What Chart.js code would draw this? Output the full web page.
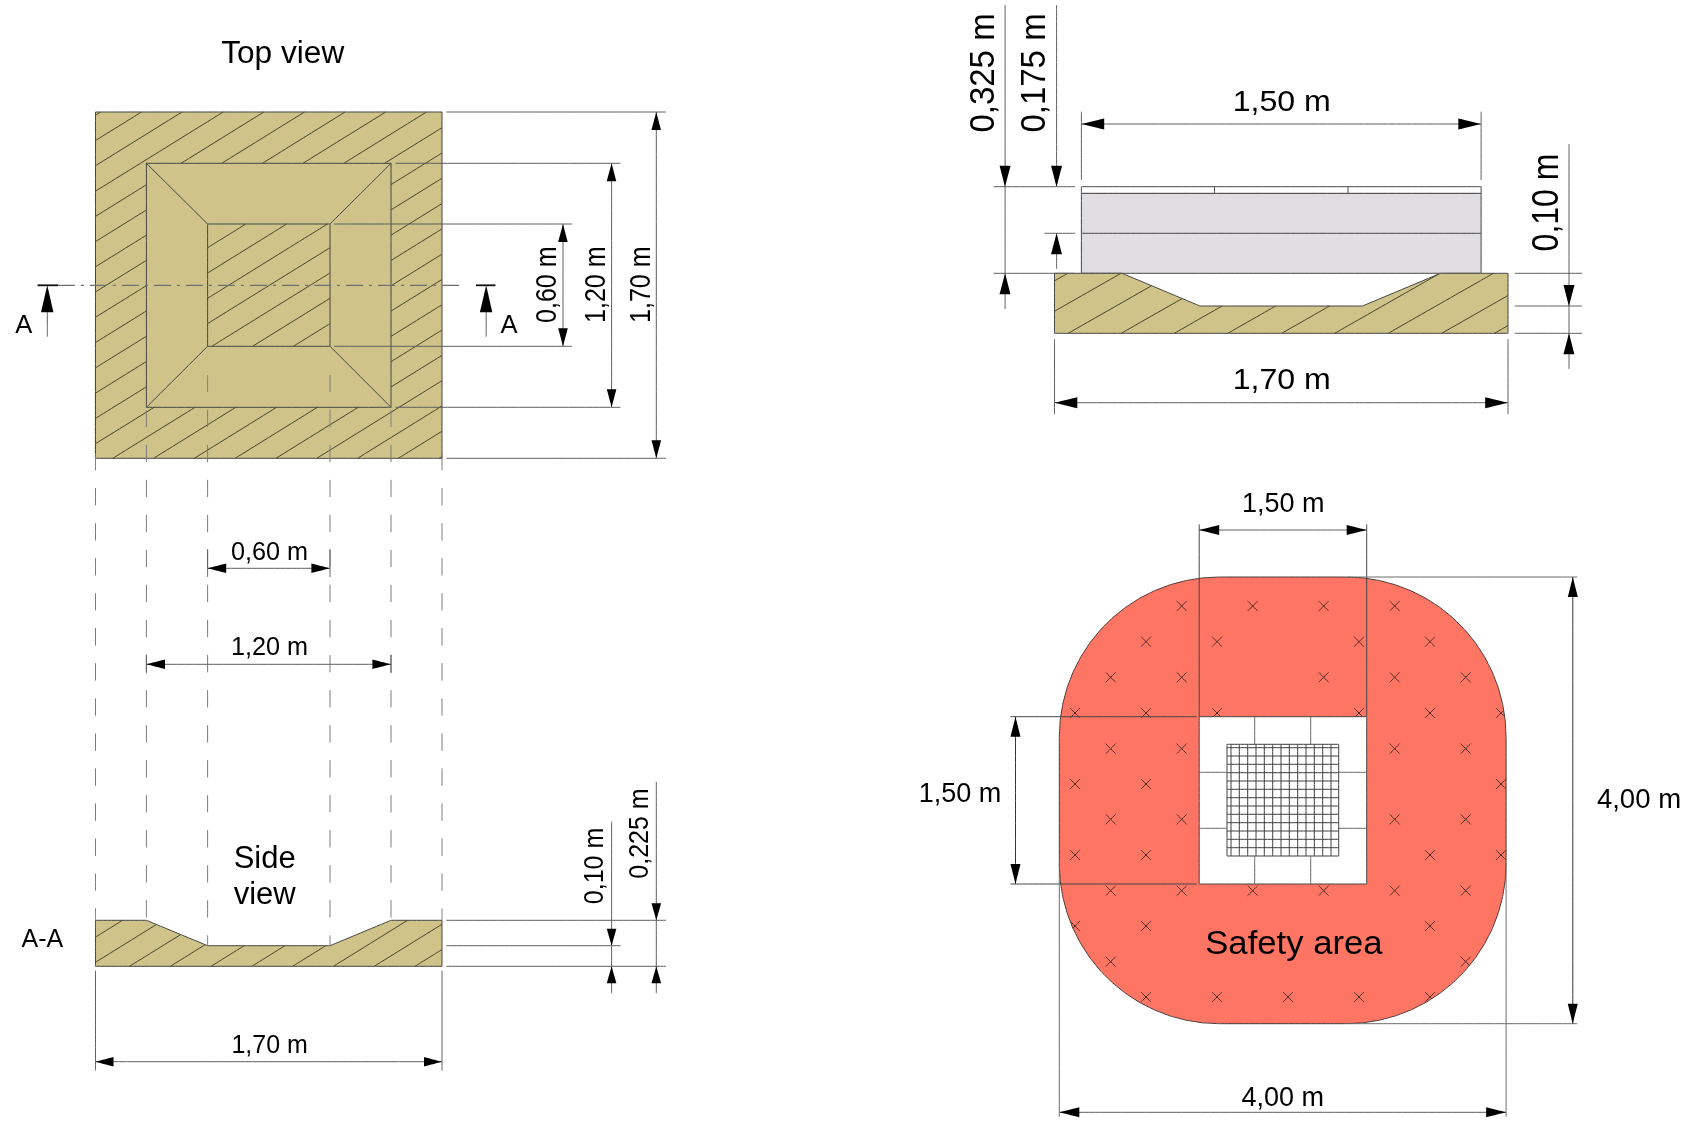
<!DOCTYPE html>
<html><head><meta charset="utf-8">
<style>html,body{margin:0;padding:0;background:#fff}canvas{display:block;filter:blur(0.3px)}</style>
<script src="https://cdn.jsdelivr.net/npm/chart.js@4"></script>
</head><body><canvas id="c" width="1698" height="1121"></canvas>
<script>
// ---- values, in drawing units ----
const topXs = [95.5, 146.4, 207.6, 330, 391, 442];
const topYs = [112, 163.3, 224, 285.3, 346.3, 407.3, 458.3];
const profileXs = [95.5, 146.4, 207.6, 330, 391, 442];
const profileYs = [920.3, 945.7, 966.3];
const plateXs = [1081.4, 1214.5, 1348, 1481.1];
const plateYs = [186.7, 193.3, 233.3, 273.3];
const baseXs = [1054.5, 1122, 1200, 1362.5, 1440.5, 1508];
const baseYs = [273.3, 306, 333.3];
const areaXs = [1059.3, 1506.1];
const areaYs = [577, 1023.7];
const areaRadius = [160];
const padXs = [1199.2, 1254.7, 1310.7, 1366.7];
const padYs = [716.7, 772.3, 828.3, 884];
const gridXs = [1227,1231,1239.3,1247.7,1256,1264.3,1272.7,1281,1289.3,1297.7,1306,1314.3,1322.7,1331,1338.7];
const gridYs = [744.3,747.7,756,764.3,772.7,781,789.3,797.7,806,814.3,822.7,831,839.3,847.7,856];
const hatchTop = [100.7,141.5,182.1,223.2,263.8,304.5,345.1,385.7,426.5,467.3,508.1,548.9,589.7,630.5,671.3,712.1,752.9,793.7,834.5,875.3,916.1,956.9,997.7];
const hatchSide = [48.4,89,129.5,170.3,211,251.8,292.6,333.4,374.2,415];
const hatchBase = [962.5,1015.8,1068.2,1121.2,1174.3,1227.8,1281.7,1334.7,1388.2,1441.7,1494.4];
const crossCols = [1075,1110.7,1146,1181.7,1217,1252.7,1288,1323.7,1359,1394.7,1430,1465.7,1501];
const crossRows = [606,641.7,677.3,713,748.7,784,819.3,855,890.7,926,961.7,997];
const crossCells = [[3,5,7,9],[2,4,8,10],[1,3,7,9,11],[0,2,4,8,10,12],[1,3,9,11],[0,2,12],[1,3,9,11],[0,2,10,12],[1,3,5,7,9,11],[0,2,10],[1,11],[2,4,6,8,10]];
const labelTexts = ["Top view","A","A","0,60 m","1,20 m","1,70 m","0,60 m","1,20 m","Side","view","A-A","0,10 m","0,225 m","1,70 m",
  "0,325 m","0,175 m","1,50 m","0,10 m","1,70 m","1,50 m","1,50 m","4,00 m","4,00 m","Safety area"];
// ---- layout of the labels: x, y, font size, rotated?, horizontal stretch ----
const labelLayout = [[282.7,52,31,0,1.02],[23.7,324,25.6,0,1],[509,324,25.6,0,1],[545,284.7,25,1,1.2],[594,284.7,25,1,1.2],[639,284.7,25,1,1.2],
  [269.5,551,25,0,1.01],[269.5,646.2,25,0,1.01],[264.7,857,31,0,1],[264.7,893,31,0,1],[42.4,938,25,0,1],[593,866,25,1,1.1],[638,833.5,25,1,1.1],[269.6,1044,25,0,1],
  [981,73,33,1,1.06],[1032.5,73,33,1,1.06],[1281.7,100.5,30,0,1.07],[1545.4,202.5,32,1,1.13],[1281.7,378.5,30,0,1.07],
  [1283.2,502.2,27,0,1],[960,792.7,27,0,1],[1639,798,27,0,1.02],[1282.7,1096.7,27,0,1],[1293.9,942,34,0,1.02]];

// ---- dataset helpers ----
const BREAK = {x:NaN,y:NaN};
const pts = a => a.map(p => ({x:p[0],y:p[1]}));
const sets = [];
function poly(p,fill,line,w){ const c=p.concat([p[0]]);
  sets.push({data:pts(c),fill:fill?'shape':false,backgroundColor:fill||'transparent',borderColor:line||'transparent',borderWidth:line?(w||1):0}); }
function line(p,col,w,dash,off){ sets.push({data:pts(p),fill:false,borderColor:col||DIM,borderWidth:w||1,borderDash:dash||[],borderDashOffset:off||0}); }
function rect(x0,y0,x1,y1){ return [[x0,y0],[x1,y0],[x1,y1],[x0,y1]]; }
function inside(x,y,rings){ let c=false;
  rings.forEach(r=>{ for(let i=0,j=r.length-1;i<r.length;j=i++){ const a=r[i],b=r[j];
    if((a[1]>y)!==(b[1]>y) && x<(b[0]-a[0])*(y-a[1])/(b[1]-a[1])+a[0]) c=!c; } });
  return c; }
function clipped(p,q,rings){ const ts=[0,1]; const dx=q[0]-p[0],dy=q[1]-p[1];
  rings.forEach(r=>{ for(let i=0,j=r.length-1;i<r.length;j=i++){ const a=r[j],b=r[i];
    const ex=b[0]-a[0],ey=b[1]-a[1],d=dx*ey-dy*ex; if(Math.abs(d)<1e-9) continue;
    const t=((a[0]-p[0])*ey-(a[1]-p[1])*ex)/d,u=((a[0]-p[0])*dy-(a[1]-p[1])*dx)/d;
    if(t>0&&t<1&&u>=0&&u<=1) ts.push(t); } });
  ts.sort((a,b)=>a-b); const out=[];
  for(let i=0;i<ts.length-1;i++){ const m=(ts[i]+ts[i+1])/2;
    if(inside(p[0]+dx*m,p[1]+dy*m,rings)) out.push({x:p[0]+dx*ts[i],y:p[1]+dy*ts[i]},{x:p[0]+dx*ts[i+1],y:p[1]+dy*ts[i+1]},BREAK); }
  return out; }
function segs(list,col,w){ sets.push({data:list,fill:false,borderColor:col,borderWidth:w||1}); }
const AL=18, AW=4.8;
function arrow(x,y,dir,len,half){ len=len||AL; half=half||AW; const d={u:[0,-1],d:[0,1],l:[-1,0],r:[1,0]}[dir];
  // the tip sits at x,y and the base lies behind it
  const bx=x-d[0]*len,by=y-d[1]*len,nx=d[1]*half,ny=d[0]*half;
  poly([[x,y],[bx+nx,by+ny],[bx-nx,by-ny]],'#000'); }
const TAN='#CFC38A',HATCH='#45442a',EDGE='#454545',DIM='#5e5e5e',DASH='#7c7c7c';

// ---- top view ----
const [X0,X1,X2,X3,X4,X5]=topXs; const [Y0,Y1,Y2,YC,Y3,Y4,Y5]=topYs;
const outer=rect(X0,Y0,X5,Y5),mid=rect(X1,Y1,X4,Y4),inner=rect(X2,Y2,X3,Y3);
poly(outer,TAN);
let h=[]; hatchTop.forEach(t=>{ h=h.concat(clipped([t,Y0],[t-1000,Y0+620],[outer,mid,inner])); }); segs(h,HATCH);
poly(outer,null,EDGE); poly(mid,null,EDGE); poly(inner,null,EDGE);
line([[X1,Y1],[X2,Y2]],EDGE); line([[X4,Y1],[X3,Y2]],EDGE); line([[X1,Y4],[X2,Y3]],EDGE); line([[X4,Y4],[X3,Y3]],EDGE);
// section line
line([[58,YC],[464.3,YC]],'#6f6f6f',1.2,[17,6,3,6]);
line([[37.5,YC],[58,YC]],'#111',1.8); line([[476,YC],[495.5,YC]],'#111',1.8);
[47.3,486.2].forEach(x=>{ line([[x,YC+20],[x,336.7]]); arrow(x,YC,'u',27,6.2); });
// top view dimensions
line([[446.4,Y0],[666,Y0]]); line([[446.4,Y5],[666,Y5]]); line([[656.3,Y0],[656.3,Y5]]); arrow(656.3,Y0,'u'); arrow(656.3,Y5,'d');
line([[395.5,Y1],[620.5,Y1]]); line([[395.5,Y4],[620.5,Y4]]); line([[611.6,Y1],[611.6,Y4]]); arrow(611.6,Y1,'u'); arrow(611.6,Y4,'d');
line([[334,Y2],[572,Y2]]); line([[334,Y3],[572,Y3]]); line([[563,Y2],[563,Y3]]); arrow(563,Y2,'u'); arrow(563,Y3,'d');

// ---- projection lines ----
const [PY0,PY1,PY2]=profileYs;
[X0,X5].forEach(x=>line([[x,453.3],[x,PY0]],DASH,1,[17.3,17.7]));
[X1,X4].forEach(x=>line([[x,410],[x,PY0]],DASH,1,[17.3,17.7]));
[X2,X3].forEach(x=>line([[x,375],[x,PY1]],DASH,1,[17.3,17.7]));

// ---- side view ----
const P=profileXs; const prof=[[P[0],PY0],[P[1],PY0],[P[2],PY1],[P[3],PY1],[P[4],PY0],[P[5],PY0],[P[5],PY2],[P[0],PY2]];
poly(prof,TAN);
h=[]; hatchSide.forEach(b=>{ h=h.concat(clipped([b,PY2],[b+300,PY2-186],[prof])); }); segs(h,HATCH);
poly(prof,null,EDGE);
line([[X2,549],[X2,577]]); line([[X3,549],[X3,577]]); line([[X2,568.3],[X3,568.3]]); arrow(X2,568.3,'l',18.6); arrow(X3,568.3,'r',18.6);
line([[X1,654.7],[X1,673.3]]); line([[X4,654.7],[X4,673.3]]); line([[X1,664.3],[X4,664.3]]); arrow(X1,664.3,'l',18.6); arrow(X4,664.3,'r',18.6);
line([[X0,970.7],[X0,1070.7]]); line([[X5,970.7],[X5,1070.7]]); line([[X0,1061.7],[X5,1061.7]]); arrow(X0,1061.7,'l'); arrow(X5,1061.7,'r');
line([[446.4,PY0],[666,PY0]]); line([[446.4,PY1],[620.5,PY1]]); line([[446.4,PY2],[666,PY2]]);
line([[611.6,821.7],[611.6,993.3]]); arrow(611.6,PY1,'d',17); arrow(611.6,PY2,'u',17);
line([[656.3,781.7],[656.3,993.3]]); arrow(656.3,PY0,'d',17); arrow(656.3,PY2,'u',17);

// ---- cross section with plates ----
const [PX0,PX1,PX2,PX3]=plateXs; const [TY0,TY1,TY2,TY3]=plateYs;
poly(rect(PX0,TY1,PX3,TY3),'#E0DEE3',EDGE);
poly(rect(PX0,TY0,PX3,TY1),'#fff',EDGE);
line([[PX1,TY0],[PX1,TY1]],EDGE); line([[PX2,TY0],[PX2,TY1]],EDGE); line([[PX0,TY2],[PX3,TY2]],EDGE);
const B=baseXs,[BY0,BY1,BY2]=baseYs; const base=[[B[0],BY0],[B[1],BY0],[B[2],BY1],[B[3],BY1],[B[4],BY0],[B[5],BY0],[B[5],BY2],[B[0],BY2]];
poly(base,TAN);
h=[]; hatchBase.forEach(b=>{ h=h.concat(clipped([b,BY2],[b+300,BY2-171],[base])); }); segs(h,HATCH);
poly(base,null,EDGE);
line([[PX0,111.7],[PX0,180]]); line([[PX3,111.7],[PX3,180]]); line([[PX0,124],[PX3,124]]); arrow(PX0,124,'l',22.8,5.5); arrow(PX3,124,'r',22.8,5.5);
line([[B[0],339.3],[B[0],414.3]]); line([[B[5],339.3],[B[5],414.3]]); line([[B[0],402.7],[B[5],402.7]]); arrow(B[0],402.7,'l',22.8,5.5); arrow(B[5],402.7,'r',22.8,5.5);
line([[993.5,TY0],[1075.2,TY0]]); line([[993.5,TY3],[1075.2,TY3]]); line([[1044.5,TY2],[1075.2,TY2]]);
line([[1005.1,5],[1005.1,309]]); arrow(1005.1,TY0,'d',21,5.5); arrow(1005.1,TY3,'u',21,5.5);
line([[1056.6,5],[1056.6,TY0]]); line([[1056.6,TY2],[1056.6,269]]); arrow(1056.6,TY0,'d',21,5.5); arrow(1056.6,TY2,'u',21,5.5);
[BY0,BY1,BY2].forEach(y=>line([[1514.7,y],[1582,y]]));
line([[1569,144],[1569,369]]); arrow(1569,BY1,'d',21,5.5); arrow(1569,BY2,'u',21,5.5);

// ---- safety area ----
const [AX0,AX1]=areaXs,[AY0,AY1]=areaYs,R=areaRadius[0]; const area=[];
[[AX1-R,AY0+R,-90],[AX1-R,AY1-R,0],[AX0+R,AY1-R,90],[AX0+R,AY0+R,180]].forEach(c=>{
  for(let a=0;a<=90;a+=6){ const t=(c[2]+a)*Math.PI/180; area.push([c[0]+R*Math.cos(t),c[1]+R*Math.sin(t)]); } });
poly(area,'#FF7563','#4a3836');
const [QX0,QX1,QX2,QX3]=padXs,[QY0,QY1,QY2,QY3]=padYs; const pad=rect(QX0,QY0,QX3,QY3);
h=[]; const CR=5;
crossCells.forEach((cols,r)=>cols.forEach(c=>{ const x=crossCols[c],y=crossRows[r];
  h=h.concat(clipped([x-CR,y-CR],[x+CR,y+CR],[area])).concat(clipped([x-CR,y+CR],[x+CR,y-CR],[area])); }));
segs(h,'#4d2a26');
poly(pad,'#fff','#444');
line([[QX0,QY0],[QX0,524.3]],'#444'); line([[QX3,QY0],[QX3,524.3]],'#444');
line([[1010.4,QY0],[1196.7,QY0]],'#444'); line([[1010.4,QY3],[1196.7,QY3]],'#444');
const gx0=gridXs[0],gx1=gridXs[gridXs.length-1],gy0=gridYs[0],gy1=gridYs[gridYs.length-1];
h=[]; gridXs.forEach(x=>h.push({x,y:gy0},{x,y:gy1},BREAK)); gridYs.forEach(y=>h.push({x:gx0,y},{x:gx1,y},BREAK));
segs(h,'#3c3c3c');
[QX1,QX2].forEach(x=>{ line([[x,QY0],[x,gy0]],'#666'); line([[x,gy1],[x,QY3]],'#666'); });
[QY1,QY2].forEach(y=>{ line([[QX0,y],[gx0,y]],'#666'); line([[gx1,y],[QX3,y]],'#666'); });
line([[QX0,530],[QX3,530]]); arrow(QX0,530,'l',20,5); arrow(QX3,530,'r',20,5);
line([[1015.5,QY0],[1015.5,QY3]],'#333'); arrow(1015.5,QY0,'u',20,5); arrow(1015.5,QY3,'d',20,5);
line([[1347.8,AY0],[1577.4,AY0]],'#6a6a6a'); line([[1347.8,AY1],[1577.4,AY1]],'#6a6a6a');
line([[1572.8,AY0],[1572.8,AY1]],'#333'); arrow(1572.8,AY0,'u',20,5); arrow(1572.8,AY1,'d',20,5);
line([[AX0,863],[AX0,1116.7]],'#6a6a6a'); line([[AX1,863],[AX1,1116.7]],'#6a6a6a');
line([[AX0,1112.3],[AX1,1112.3]]); arrow(AX0,1112.3,'l',20,5); arrow(AX1,1112.3,'r',20,5);

// Chart.js paints the first dataset last, so reverse the painter's list.
const datasets = sets.reverse().map(d=>Object.assign({showLine:true,pointRadius:0,pointHoverRadius:0,tension:1e-6,spanGaps:false,clip:false},d));

const labelPlugin = { id:'drawingLabels', afterDatasetsDraw(chart){
  const g=chart.ctx, sx=chart.scales.x, sy=chart.scales.y;
  labelTexts.forEach((t,i)=>{ const [x,y,f,rot,st]=labelLayout[i];
    g.save(); g.translate(sx.getPixelForValue(x),sy.getPixelForValue(y)); g.scale(st,1);
    if(rot) g.rotate(-Math.PI/2);
    g.font=f+'px "Liberation Sans", Arial, sans-serif'; g.fillStyle='#000'; g.textAlign='center'; g.textBaseline='alphabetic';
    g.fillText(t,0,0.358*f); g.restore(); });
}};

new Chart(document.getElementById('c'),{
  type:'line',
  data:{datasets},
  plugins:[labelPlugin],
  options:{responsive:false,animation:false,devicePixelRatio:1,events:[],
    layout:{padding:0},
    plugins:{legend:{display:false},tooltip:{enabled:false},title:{display:false}},
    scales:{x:{type:'linear',display:false,min:0,max:1698},y:{type:'linear',display:false,min:0,max:1121,reverse:true}}}
});
</script></body></html>
